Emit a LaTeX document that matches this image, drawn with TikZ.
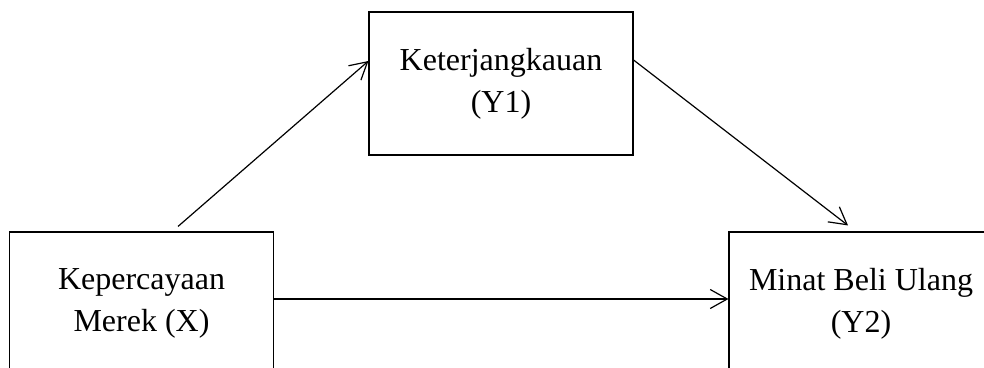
\documentclass[tikz,border=0pt]{standalone}
\usepackage{fontspec}
\setmainfont{Liberation Serif}
\usetikzlibrary{arrows.meta}
\tikzset{
  varbox/.style={draw, line width=1.1pt, minimum width=264pt, minimum height=143pt,
    inner sep=0pt, align=center, font=\fontsize{32}{42}\selectfont}
}
\begin{document}
\begin{tikzpicture}[>={Straight Barb[length=17pt,width=19pt]}, x=1pt, y=1pt, line width=1.2pt]
\clip (0,0) rectangle (984,367);
\node[varbox] (X) at (141.5,63.5) {Kepercayaan\\Merek (X)};
\node[varbox] (Y1) at (501,283.5) {Keterjangkauan\\(Y1)};
\node[varbox] (Y2) at (861,63.5) {Minat Beli Ulang\\(Y2)};
\draw[->] ([shift={(36.5,5)}]X.north) -- ([yshift=22.5]Y1.west);
\draw[->] ([yshift=23.5]Y1.east) -- ([shift={(-13,6)}]Y2.north);
\draw[->] ([yshift=4.5]X.east) -- ([yshift=4.5]Y2.west);
\end{tikzpicture}
\end{document}
